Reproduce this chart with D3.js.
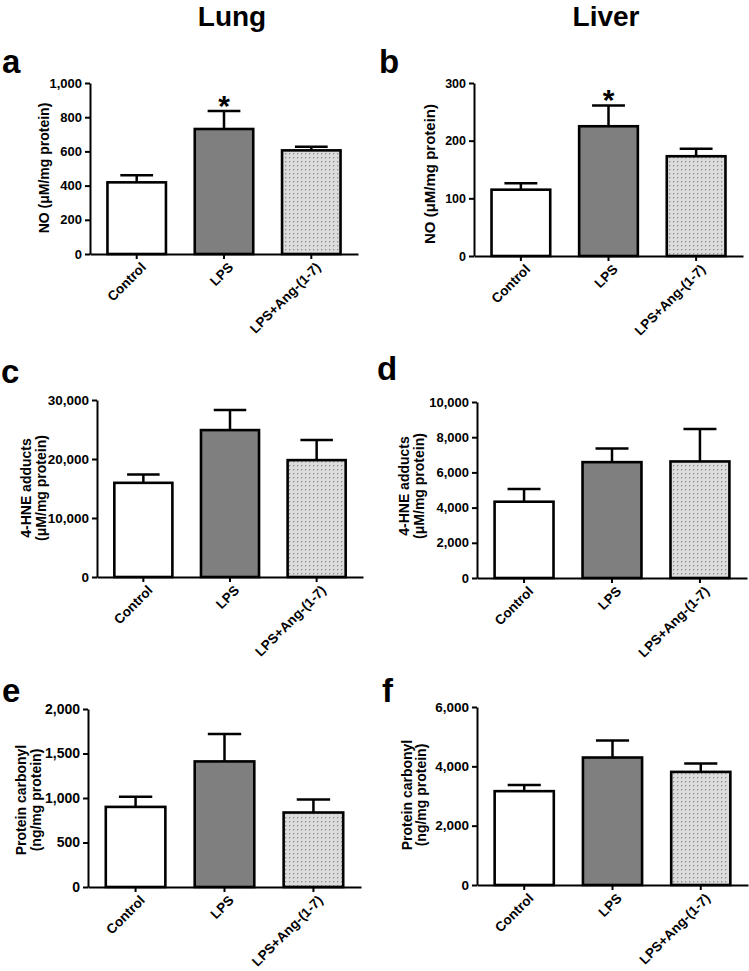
<!DOCTYPE html>
<html>
<head>
<meta charset="utf-8">
<script src="https://cdn.jsdelivr.net/npm/d3@7"></script>
<style>
  html, body { margin: 0; padding: 0; background: #fff; }
  svg { display: block; font-family: "Liberation Sans", Arial, Helvetica, sans-serif; }
</style>
</head>
<body>
<svg id="fig" width="749" height="971"></svg>
<script>
// ---- data ----
const categories = ["Control", "LPS", "LPS+Ang-(1-7)"];

const noLung = [419, 731, 606];
const noLungSem = [41, 105, 21];
const noLungSig = ["", "*", ""];
const noLungTicks = [0, 200, 400, 600, 800, 1000];

const noLiver = [115, 225, 173];
const noLiverSem = [11, 36, 13];
const noLiverSig = ["", "*", ""];
const noLiverTicks = [0, 100, 200, 300];

const hneLung = [15960, 24900, 19810];
const hneLungSem = [1420, 3400, 3400];
const hneLungTicks = [0, 10000, 20000, 30000];

const hneLiver = [4335, 6583, 6622];
const hneLiverSem = [720, 775, 1845];
const hneLiverTicks = [0, 2000, 4000, 6000, 8000, 10000];

const pcLung = [900, 1411, 837];
const pcLungSem = [113, 307, 147];
const pcLungTicks = [0, 500, 1000, 1500, 2000];

const pcLiver = [3163, 4297, 3813];
const pcLiverSem = [212, 572, 282];
const pcLiverTicks = [0, 2000, 4000, 6000];

const columnTitles = ["Lung", "Liver"];

// ---- layout ----
const panels = [
  { letter: "a", lx: 2, ly: 73, x0: 90, x1: 358, y0: 254, yTop: 83, values: noLung, sem: noLungSem, sig: noLungSig, ticks: noLungTicks,
    title: ["NO (\u03bcM/mg protein)"], tx: [44], ty: 168, tfs: 14, tickFs: 13 },
  { letter: "b", lx: 379, ly: 73, x0: 474, x1: 743, y0: 256, yTop: 83, values: noLiver, sem: noLiverSem, sig: noLiverSig, ticks: noLiverTicks,
    title: ["NO (\u03bcM/mg protein)"], tx: [430], ty: 174, tfs: 15, tickFs: 12.5 },
  { letter: "c", lx: 1, ly: 383, x0: 97, x1: 363, y0: 577, yTop: 400, values: hneLung, sem: hneLungSem, sig: null, ticks: hneLungTicks,
    title: ["4-HNE adducts", "(\u03bcM/mg protein)"], tx: [26, 41], ty: 488, tfs: 14, tickFs: 13.5 },
  { letter: "d", lx: 377, ly: 380, x0: 477, x1: 747, y0: 578, yTop: 402, values: hneLiver, sem: hneLiverSem, sig: null, ticks: hneLiverTicks,
    title: ["4-HNE adducts", "(\u03bcM/mg protein)"], tx: [404, 419], ty: 486, tfs: 14, tickFs: 13 },
  { letter: "e", lx: 2, ly: 702, x0: 88, x1: 361, y0: 887, yTop: 709, values: pcLung, sem: pcLungSem, sig: null, ticks: pcLungTicks,
    title: ["Protein carbonyl", "(ng/mg protein)"], tx: [21, 36], ty: 800, tfs: 14, tickFs: 14 },
  { letter: "f", lx: 382, ly: 702, x0: 477, x1: 748, y0: 885, yTop: 707, values: pcLiver, sem: pcLiverSem, sig: null, ticks: pcLiverTicks,
    title: ["Protein carbonyl", "(ng/mg protein)"], tx: [407, 421], ty: 795, tfs: 14, tickFs: 13.5 }
];

const fills = ["#ffffff", "#7f7f7f", "url(#dots)"];
const fmt = d3.format(",");

const svg = d3.select("#fig");

// dotted pattern
const defs = svg.append("defs");
const pat = defs.append("pattern").attr("id", "dots").attr("patternUnits", "userSpaceOnUse")
  .attr("width", 4).attr("height", 4);
pat.append("rect").attr("width", 4).attr("height", 4).attr("fill", "#dcdcdc");
pat.append("rect").attr("x", 1).attr("y", 1).attr("width", 1.3).attr("height", 1.3).attr("fill", "#8c8c8c");

// column titles
svg.append("text").attr("x", 232).attr("y", 26).attr("text-anchor", "middle")
  .attr("font-size", 28).attr("font-weight", "bold").text(columnTitles[0]);
svg.append("text").attr("x", 606).attr("y", 26).attr("text-anchor", "middle")
  .attr("font-size", 28).attr("font-weight", "bold").text(columnTitles[1]);

panels.forEach(p => {
  const g = svg.append("g");
  const maxV = p.ticks[p.ticks.length - 1];
  const x = d3.scaleBand().domain(categories).range([p.x0, p.x1]).paddingInner(0.33).paddingOuter(0.2);
  const y = d3.scaleLinear().domain([0, maxV]).range([p.y0, p.yTop]);

  // letter
  g.append("text").attr("x", p.lx).attr("y", p.ly).attr("font-size", 33).attr("font-weight", "bold").text(p.letter);

  // bars
  const bw = x.bandwidth();
  categories.forEach((c, i) => {
    const v = p.values[i];
    const cx = x(c) + bw / 2;
    const top = y(v);
    const et = y(v + p.sem[i]);
    // error bar (upper only)
    g.append("line").attr("x1", cx).attr("x2", cx).attr("y1", top).attr("y2", et)
      .attr("stroke", "#000").attr("stroke-width", 2.5);
    g.append("line").attr("x1", cx - bw * 0.28).attr("x2", cx + bw * 0.28).attr("y1", et).attr("y2", et)
      .attr("stroke", "#000").attr("stroke-width", 2.5);
    g.append("rect").attr("x", x(c)).attr("y", top).attr("width", bw).attr("height", p.y0 - top)
      .attr("fill", fills[i]).attr("stroke", "#000").attr("stroke-width", 2.6);
    if (p.sig && p.sig[i]) {
      g.append("text").attr("x", cx).attr("y", et + 5).attr("text-anchor", "middle")
        .attr("font-size", 30).attr("font-weight", "bold").text(p.sig[i]);
    }
  });

  // y axis
  const yAxis = d3.axisLeft(y).tickValues(p.ticks).tickFormat(fmt).tickSize(5).tickPadding(3).tickSizeOuter(0);
  const ya = g.append("g").attr("transform", `translate(${p.x0},0)`).call(yAxis);
  ya.select(".domain").attr("stroke-width", 2);
  ya.selectAll(".tick line").attr("stroke-width", 2);
  ya.selectAll(".tick text").attr("font-size", p.tickFs).attr("font-weight", "bold").attr("fill", "#000")
    .attr("font-family", "'Liberation Sans', Arial, sans-serif");

  // x axis
  const xAxis = d3.axisBottom(x).tickSize(5).tickSizeOuter(0).tickFormat("");
  const xa = g.append("g").attr("transform", `translate(0,${p.y0})`).call(xAxis);
  xa.select(".domain").attr("stroke-width", 2);
  xa.selectAll(".tick line").attr("stroke-width", 2);
  categories.forEach(c => {
    const cx = x(c) + bw / 2;
    g.append("text").attr("transform", `translate(${cx + 3},${p.y0 + 7}) rotate(-45)`)
      .attr("text-anchor", "end").attr("dy", "0.75em")
      .attr("font-size", 13.5).attr("font-weight", "bold").text(c);
  });

  // y title
  p.title.forEach((t, k) => {
    g.append("text").attr("transform", `translate(${p.tx[k]},${p.ty}) rotate(-90)`)
      .attr("text-anchor", "middle").attr("dy", "0.35em")
      .attr("font-size", p.tfs).attr("font-weight", "bold").text(t);
  });
});
</script>
</body>
</html>
